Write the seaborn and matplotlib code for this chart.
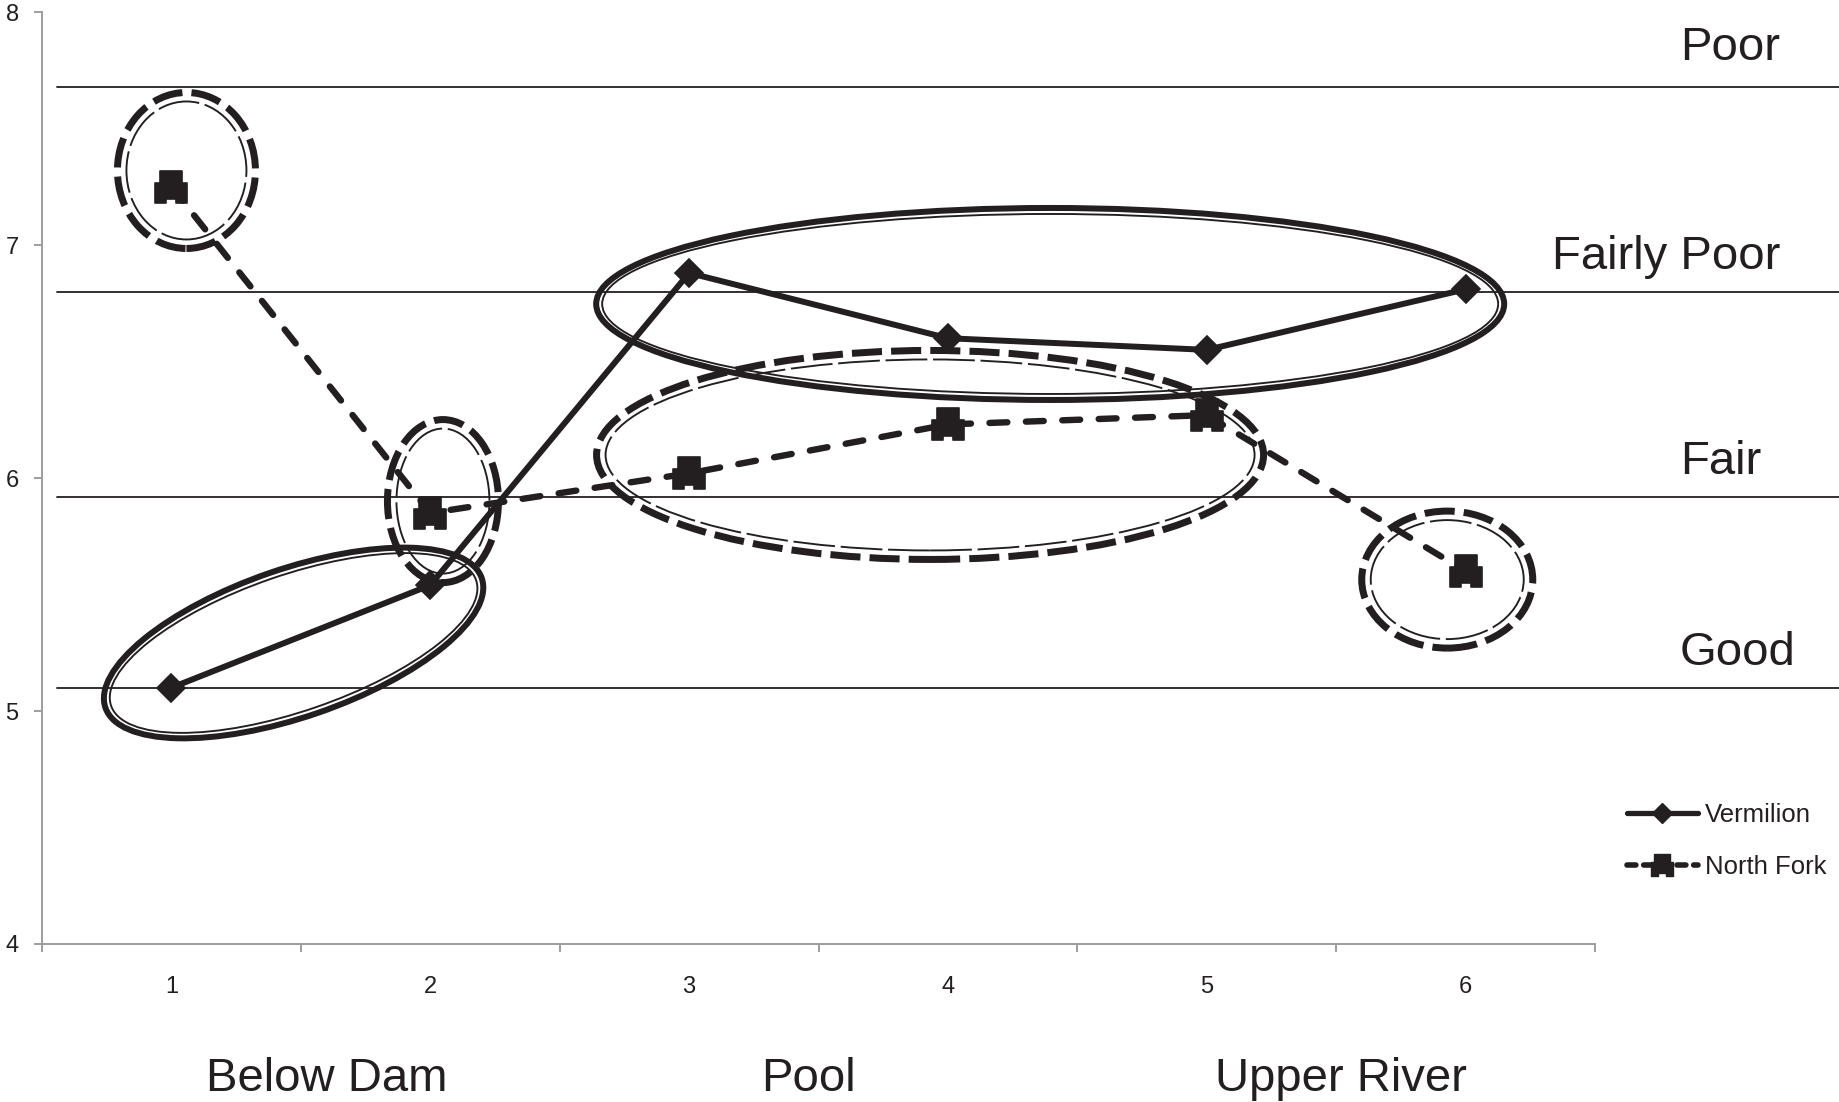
import matplotlib
matplotlib.use("Agg")
import matplotlib.pyplot as plt
import seaborn as sns
import pandas as pd
from matplotlib.patches import Ellipse
from matplotlib.path import Path
from matplotlib.lines import Line2D
from matplotlib.transforms import ScaledTranslation, blended_transform_factory

# --- data -------------------------------------------------------------
sites = [1, 2, 3, 4, 5, 6]
site_labels = ["1", "2", "3", "4", "5", "6"]
vermilion = [5.10, 5.54, 6.88, 6.60, 6.55, 6.81]
north_fork = [7.25, 5.85, 6.02, 6.23, 6.27, 5.60]

rating_names = ["Poor", "Fairly Poor", "Fair", "Good"]
rating_bounds = [7.68, 6.80, 5.92, 5.10]

reach_names = ["Below Dam", "Pool", "Upper River"]
reach_centers = [1.6, 3.46, 5.52]

y_ticks = [4, 5, 6, 7, 8]

INK = "#231f20"
AXIS_GREY = "#9d9d9d"

sns.set_theme(style="white")
plt.rcParams["font.family"] = ["Liberation Sans", "DejaVu Sans"]

DPI = 100
fig = plt.figure(figsize=(18.39, 11.02), dpi=DPI)
ax = fig.add_axes([0.02284, 0.14338, 0.8445, 0.8457])
ax.set_xlim(0.5, 6.5)
ax.set_ylim(4, 8)

# notched square marker used for the North Fork series
nf_marker = Path([(-0.36, 0.5), (0.36, 0.5), (0.36, 0.13), (0.5, 0.13),
                  (0.5, -0.5), (0.16, -0.5), (0.16, -0.37), (-0.16, -0.37),
                  (-0.16, -0.5), (-0.5, -0.5), (-0.5, 0.13), (-0.36, 0.13),
                  (-0.36, 0.5)], closed=True)

df_v = pd.DataFrame({"site": sites, "score": vermilion})
df_n = pd.DataFrame({"site": sites, "score": north_fork})

sns.lineplot(data=df_v, x="site", y="score", ax=ax, color=INK, lw=4.3,
             marker="D", markersize=14, markeredgecolor=INK,
             markerfacecolor=INK, markeredgewidth=1.2, errorbar=None,
             legend=False, zorder=4)
sns.lineplot(data=df_n, x="site", y="score", ax=ax, color=INK, lw=4.6,
             linestyle=(0, (2.8, 2.9)), dash_capstyle="round",
             marker=nf_marker, markersize=23, markeredgecolor=INK,
             markerfacecolor=INK, markeredgewidth=1.2, errorbar=None,
             legend=False, zorder=4)

# rating boundaries, running past the plot area to the right edge
for b in rating_bounds:
    ax.axhline(b, xmin=0.0097, xmax=1.16, color=INK, lw=1.3,
               clip_on=False, zorder=1)

rating_x = [1680, 1552, 1680, 1680]
rating_offset = [19, 16, 16, 16]
blend = blended_transform_factory(fig.transFigure, ax.transData)
for name, b, xp, off in zip(rating_names, rating_bounds, rating_x,
                            rating_offset):
    ax.annotate(name, xy=(xp / 1839, b), xycoords=blend,
                xytext=(0, off), textcoords="offset points",
                ha="left", va="baseline", fontsize=34, color=INK,
                annotation_clip=False)


# double-line rings around groups of sites (sizes in pixels)
def ring(cx, cy, rx, ry, angle=0.0, dashed=False):
    tr = fig.dpi_scale_trans + ScaledTranslation(cx, cy, ax.transData)
    if dashed:
        specs = [(3.5, 7.0, (0, (4.3, 1.3))), (12.5, 1.9, (0, (22, 3)))]
    else:
        specs = [(3.0, 6.0, "solid"), (9.0, 1.9, "solid")]
    for inset, lw_px, ls in specs:
        e = Ellipse((0, 0), 2 * (rx - inset) / DPI, 2 * (ry - inset) / DPI,
                    angle=angle, transform=tr, fill=False, edgecolor=INK,
                    lw=lw_px * 0.72, linestyle=ls, zorder=3)
        ax.add_patch(e)


ring(1.472, 5.292, 202, 77, angle=19)
ring(4.395, 6.747, 457, 99)
ring(1.058, 7.320, 72.5, 81.5, dashed=True)
ring(2.049, 5.901, 59, 85, dashed=True)
ring(3.931, 6.099, 337, 108, dashed=True)
ring(5.929, 5.564, 89, 72, dashed=True)

# axes styling
for side in ["top", "right"]:
    ax.spines[side].set_visible(False)
for side in ["left", "bottom"]:
    ax.spines[side].set_color(AXIS_GREY)
    ax.spines[side].set_linewidth(1.4)

ax.set_yticks(y_ticks)
ax.set_yticklabels([str(t) for t in y_ticks])
ax.tick_params(axis="y", which="major", direction="out", length=5.8,
               width=1.4, color=AXIS_GREY, labelsize=17, labelcolor=INK,
               pad=11, left=True)

ax.set_xticks([0.5, 1.5, 2.5, 3.5, 4.5, 5.5, 6.5])
ax.set_xticklabels([])
ax.set_xticks(sites, minor=True)
ax.set_xticklabels(site_labels, minor=True)
ax.tick_params(axis="x", which="major", direction="out", length=5.8,
               width=1.4, color=AXIS_GREY, bottom=True)
ax.tick_params(axis="x", which="minor", length=0, labelsize=17,
               labelcolor=INK, pad=23, bottom=True)
ax.set_xlabel("")
ax.set_ylabel("")
ax.grid(False)

xt = ax.get_xaxis_transform()
for name, cx in zip(reach_names, reach_centers):
    ax.text(cx, -0.1577, name, transform=xt, ha="center", va="baseline",
            fontsize=34, color=INK)

handles = [
    Line2D([], [], color=INK, lw=3.8, marker="D", markersize=10,
           markerfacecolor=INK, markeredgecolor=INK),
    Line2D([], [], color=INK, lw=4.0, linestyle=(0, (1.6, 1.4)),
           dash_capstyle="round", marker=nf_marker, markersize=16,
           markerfacecolor=INK, markeredgecolor=INK),
]
fig.legend(handles, ["Vermilion", "North Fork"], loc="center left",
           bbox_to_anchor=(1627 / 1839, 1 - 841 / 1102),
           bbox_transform=fig.transFigure, frameon=False, fontsize=18.5,
           handlelength=2.75, handletextpad=0.3, labelspacing=1.1,
           borderpad=0, borderaxespad=0, labelcolor=INK)

fig.savefig("out.png", dpi=DPI, facecolor="white")
